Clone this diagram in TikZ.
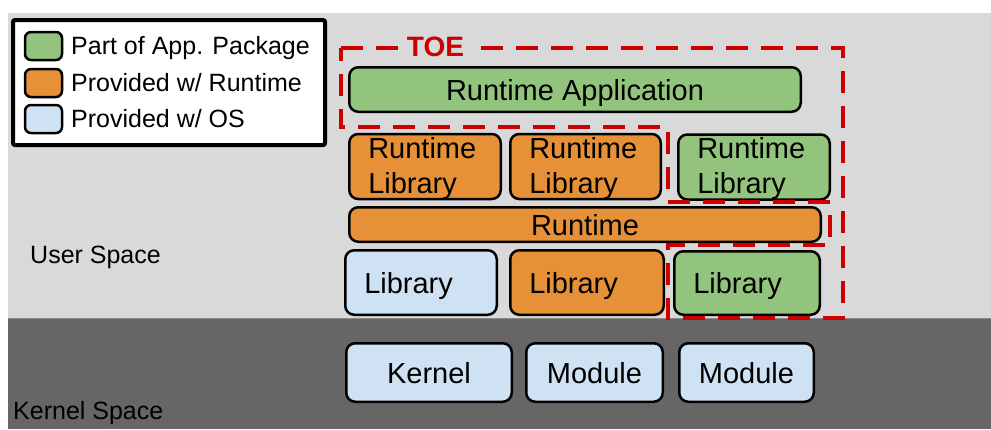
\documentclass[tikz,border=0pt]{standalone}
\usepackage{fontspec}
\setmainfont{Liberation Sans}
\definecolor{appgreen}{HTML}{93C47D}
\definecolor{rtorange}{HTML}{E69138}
\definecolor{osblue}{HTML}{CFE2F3}
\definecolor{bglight}{HTML}{D9D9D9}
\definecolor{bgdark}{HTML}{666666}
\definecolor{toered}{HTML}{CC0000}
\begin{document}
\begin{tikzpicture}[x=1pt,y=-1pt,
  box/.style={draw=black, line width=2.5pt, rounded corners=9pt, inner sep=0pt,
    font=\fontsize{29}{35}\selectfont, text height=21pt, text depth=-2pt},
  lbox/.style={box, align=left, inner xsep=19pt},
  mlbox/.style={lbox, text height=24pt, text depth=41pt},
  swatch/.style={draw=black, line width=2.5pt, rounded corners=6pt,
    minimum width=37pt, minimum height=28pt, inner sep=0pt},
  legtext/.style={anchor=base west, inner sep=0pt, font=\fontsize{25}{30}\selectfont},
  spacetext/.style={anchor=base west, inner sep=0pt, font=\fontsize{25}{30}\selectfont},
  toeline/.style={draw=toered, line width=4pt, dash pattern=on 22pt off 13pt}
]
\useasboundingbox (0,0) rectangle (991,429);
% backgrounds
\fill[bglight] (8,13) rectangle (991,318);
\fill[bgdark] (8,318) rectangle (991,429);
\draw[black!45, line width=1pt] (8,318.5) -- (991,318.5);

% legend
\node[draw=black, line width=4pt, fill=white, minimum width=312pt, minimum height=125pt,
  rounded corners=2pt, inner sep=0pt] (legend) at (169,82.5) {};
\node[swatch, fill=appgreen] (swg) at (43.5,46) {};
\node[swatch, fill=rtorange] (swo) at (43.5,83) {};
\node[swatch, fill=osblue] (swb) at (43.5,119) {};
\node[legtext] (lg1) at (71,54) {Part of App. Package};
\node[legtext] (lg2) at (71,91) {Provided w/ Runtime};
\node[legtext] (lg3) at (71,127) {Provided w/ OS};

% space labels
\node[spacetext] (user) at (30,263) {User Space};
\node[spacetext] (kern) at (13,419) {Kernel Space};

% user space boxes
\node[box, fill=appgreen, minimum width=451.5pt, minimum height=44.5pt] (app) at (575,89.5) {Runtime Application};
\node[mlbox, fill=rtorange, text width=113.5pt, minimum height=64.5pt] (rl1) at (425,166.5) {Runtime\\Library};
\node[mlbox, fill=rtorange, text width=112.5pt, minimum height=64.5pt] (rl2) at (585.5,166.5) {Runtime\\Library};
\node[mlbox, fill=appgreen, text width=113.5pt, minimum height=63.5pt] (rl3) at (754,167) {Runtime\\Library};
\node[box, fill=rtorange, minimum width=471.5pt, minimum height=34.5pt] (rt) at (585,224.5) {Runtime};
\node[lbox, fill=osblue, text width=113.5pt, minimum height=64.5pt] (lib1) at (421,282.5) {Library};
\node[lbox, fill=rtorange, text width=115.5pt, minimum height=64.5pt] (lib2) at (587,282.5) {Library};
\node[lbox, fill=appgreen, text width=107.5pt, minimum height=63.5pt] (lib3) at (747,283) {Library};

% kernel space boxes
\node[box, fill=osblue, minimum width=165.5pt, minimum height=58.5pt] (kernel) at (429,372.5) {Kernel};
\node[box, fill=osblue, minimum width=136.5pt, minimum height=58.5pt] (mod1) at (594.5,372.5) {Module};
\node[box, fill=osblue, minimum width=134.5pt, minimum height=58.5pt] (mod2) at (746.5,372.5) {Module};

% TOE boundary
\draw[toeline] (341,48) -- (843,48) -- (843,318) -- (668,318) -- (668,245) -- (830,245)
  -- (830,202) -- (668,202) -- (668,127) -- (341,127) -- cycle;
\node[fill=bglight, text=toered, inner xsep=9pt, inner ysep=1pt,
  font=\bfseries\fontsize{28}{30}\selectfont] (toe) at (435.5,47) {TOE};
\end{tikzpicture}
\end{document}
